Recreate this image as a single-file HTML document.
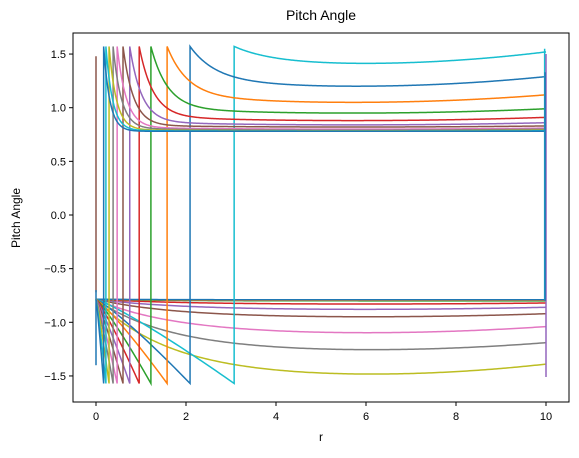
<!DOCTYPE html>
<html><head><meta charset="utf-8"><style>
body{margin:0;background:#fff}
svg text{font-family:"Liberation Sans","DejaVu Sans",sans-serif;fill:#000}
</style></head><body>
<svg id="chart" width="579" height="453" viewBox="0 0 579 453" xmlns="http://www.w3.org/2000/svg">
<text x="321" y="20" font-size="14" text-anchor="middle">Pitch Angle</text>
<text x="321" y="441" font-size="12" text-anchor="middle">r</text>
<text x="20" y="218" font-size="12" text-anchor="middle" transform="rotate(-90 20 218)">Pitch Angle</text>
<g id="plot"></g>
<g id="axes"></g>
</svg>
<script>
const colors=["#1f77b4","#ff7f0e","#2ca02c","#d62728","#9467bd","#8c564b","#e377c2","#7f7f7f","#bcbd22","#17becf"];
const xTicks=[0,2,4,6,8,10];
const yTicks=[-1.5,-1.0,-0.5,0.0,0.5,1.0,1.5];
// upper branch series: jump radius, plateau minimum, value at r=10
const upperStart=[3.07,2.09,1.58,1.22,0.96,0.75,0.6,0.47,0.38,0.29,0.22,0.17];
const upperMin=[1.41,1.20,1.05,0.95,0.88,0.84,0.82,0.80,0.79,0.785,0.782,0.78];
const upperEnd=[1.52,1.29,1.12,0.99,0.91,0.86,0.83,0.81,0.80,0.79,0.785,0.78];
const upperColor=[9,0,1,2,3,4,5,6,7,8,9,0];
// lower plateau series: minimum value, value at r=10
const lowerMin=[-1.49,-1.26,-1.10,-0.95,-0.88,-0.83,-0.80,-0.795,-0.79];
const lowerEnd=[-1.39,-1.19,-1.04,-0.92,-0.86,-0.82,-0.80,-0.795,-0.79];
const lowerColor=[8,7,6,5,4,3,2,1,0];

const X0=73,X1=569,Y0=33,Y1=402;
const sx=r=>96+r*45;
const sy=v=>215-v*107.3;
const plot=document.getElementById('plot');
const axes=document.getElementById('axes');
const NS="http://www.w3.org/2000/svg";
function addPath(pts,color,name){
  const p=document.createElementNS(NS,'path');
  p.setAttribute('d','M'+pts.map(q=>sx(q[0]).toFixed(2)+','+sy(q[1]).toFixed(2)).join('L'));
  p.setAttribute('fill','none');p.setAttribute('stroke',color);p.setAttribute('stroke-width','1.5');
  
  
  plot.appendChild(p);
}
const PI2=1.5708;
addPath([[0,-0.72],[0,1.48]],colors[5],'series-line-r0');
addPath([[0,-0.7],[0,-1.4]],colors[0],'series-line-r0-low');
lowerMin.forEach((m,i)=>{
  const e=lowerEnd[i];const a=(e-m)/(4.3*4.3);
  const g=r=>m+a*(r-5.7)*(r-5.7);
  const g0=g(0);const pts=[];
  for(let r=0;r<=10.001;r+=0.05){pts.push([r,g(r)+(-0.785-g0)*Math.exp(-r/1.4)]);}
  addPath(pts,colors[lowerColor[i]],'lower-series-'+i);
});
upperStart.forEach((r0,i)=>{
  const m=upperMin[i],e=upperEnd[i];const a=(e-m)/(4.3*4.3);
  const g=r=>m+a*(r-5.7)*(r-5.7);
  const tau=0.1+0.22*r0;const pts=[];
  for(let k=0;k<=30;k++){const t=k/30;pts.push([r0*t,-0.785-0.785*Math.pow(t,1.15)]);}
  pts.push([r0,PI2]);
  const d=PI2-g(r0);
  for(let r=r0;r<=10.001;r+=0.02){pts.push([r,g(r)+d*Math.exp(-(r-r0)/tau)]);}
  pts.push([10,e]);
  addPath(pts,colors[upperColor[i]],'upper-series-'+i);
});
addPath([[9.97,1.55],[9.97,-0.79]],colors[9],'end-line-cyan');
addPath([[10,1.5],[10,-1.51]],colors[4],'end-line-purple');
addPath([[9.98,1.33],[9.98,-0.8]],colors[0],'end-line-blue');
const fr=document.createElementNS(NS,'rect');
fr.setAttribute('x',X0);fr.setAttribute('y',Y0);fr.setAttribute('width',X1-X0);fr.setAttribute('height',Y1-Y0);
fr.setAttribute('fill','none');fr.setAttribute('stroke','#000');fr.setAttribute('stroke-width','1');


axes.appendChild(fr);
xTicks.forEach(t=>{
  const l=document.createElementNS(NS,'line');
  l.setAttribute('x1',sx(t));l.setAttribute('x2',sx(t));l.setAttribute('y1',Y1);l.setAttribute('y2',Y1+4);l.setAttribute('stroke','#000');
  
  
  axes.appendChild(l);
  const tx=document.createElementNS(NS,'text');
  tx.setAttribute('x',sx(t));tx.setAttribute('y',Y1+18);tx.setAttribute('font-size','11');tx.setAttribute('text-anchor','middle');
  tx.textContent=t;
  
  
  axes.appendChild(tx);
});
yTicks.forEach(t=>{
  const l=document.createElementNS(NS,'line');
  l.setAttribute('x1',X0-4);l.setAttribute('x2',X0);l.setAttribute('y1',sy(t));l.setAttribute('y2',sy(t));l.setAttribute('stroke','#000');
  
  
  axes.appendChild(l);
  const tx=document.createElementNS(NS,'text');
  tx.setAttribute('x',X0-7);tx.setAttribute('y',sy(t)+4);tx.setAttribute('font-size','11');tx.setAttribute('text-anchor','end');
  tx.textContent=(t<0?'\u2212':'')+Math.abs(t).toFixed(1);
  
  
  axes.appendChild(tx);
});
</script>
</body></html>
